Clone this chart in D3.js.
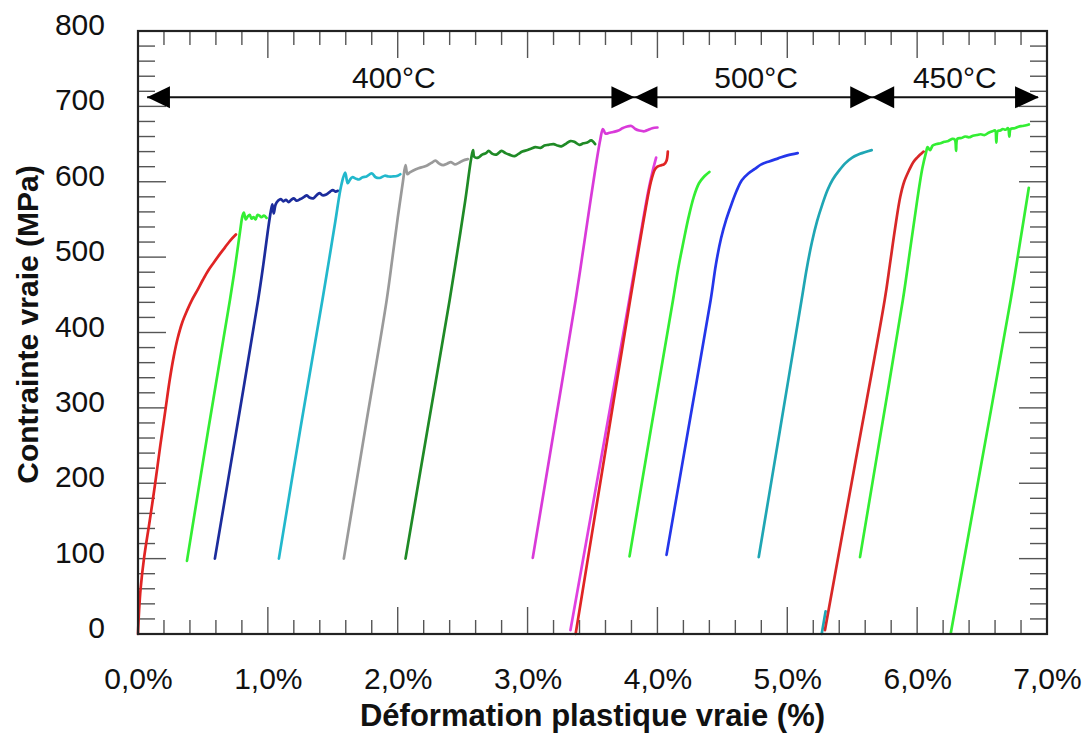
<!DOCTYPE html>
<html><head><meta charset="utf-8">
<script src="https://cdn.jsdelivr.net/npm/d3@7"></script>
<style>
html,body{margin:0;padding:0;background:#fff;}
svg{display:block;font-family:"Liberation Sans",Arial,Helvetica,sans-serif;}
</style></head>
<body>
<svg id="chart" width="1088" height="734"></svg>
<script>
// ---- data (strain %, true stress MPa) ----
const red400   = [[0,0],[0.008,30],[0.02,60],[0.046,100],[0.09,150],[0.13,197],[0.17,248],[0.21,296],[0.245,338],[0.275,368],[0.305,392],[0.34,413],[0.38,430],[0.415,443],[0.46,457],[0.5,470],[0.54,482],[0.58,492],[0.63,504],[0.67,513],[0.71,522],[0.754,530]];
const lime400  = [[0.377,97],[0.54,270],[0.708,443],[0.75,490],[0.785,533],[0.805,555],[0.815,559],[0.83,550],[0.845,554],[0.86,556],[0.875,551],[0.89,553],[0.905,550],[0.92,556],[0.935,555],[0.95,553],[0.97,555],[0.99,552]];
const navy400  = [[0.592,100],[0.76,272],[0.925,443],[0.965,490],[1.0,535],[1.025,563],[1.035,570],[1.045,558],[1.06,570],[1.08,575],[1.1,577],[1.12,574],[1.14,576],[1.16,573],[1.18,576],[1.2,578],[1.22,575],[1.25,577],[1.28,580],[1.3,582],[1.32,579],[1.35,578],[1.38,583],[1.4,585],[1.42,582],[1.45,583],[1.48,587],[1.5,589],[1.52,587],[1.54,588]];
const cyan400  = [[1.085,100],[1.25,272],[1.42,443],[1.47,495],[1.52,548],[1.565,595],[1.595,612],[1.615,598],[1.63,602],[1.65,606],[1.68,604],[1.7,603],[1.73,606],[1.76,607],[1.8,611],[1.83,606],[1.86,605],[1.9,608],[1.93,607],[1.96,607],[2.0,608],[2.02,610]];
const gray400  = [[1.585,100],[1.75,272],[1.915,443],[1.96,500],[2.0,552],[2.04,600],[2.06,622],[2.075,610],[2.09,612],[2.12,615],[2.16,618],[2.2,620],[2.23,622],[2.26,625],[2.29,628],[2.32,624],[2.35,622],[2.38,624],[2.41,626],[2.44,623],[2.47,625],[2.5,628],[2.54,630]];
const green400 = [[2.06,100],[2.23,272],[2.4,443],[2.46,508],[2.52,575],[2.565,630],[2.58,642],[2.59,633],[2.62,632],[2.65,636],[2.68,638],[2.7,641],[2.73,637],[2.76,636],[2.8,641],[2.83,638],[2.86,636],[2.9,634],[2.93,637],[2.96,640],[3.0,642],[3.03,644],[3.06,646],[3.1,645],[3.13,648],[3.16,649],[3.2,650],[3.23,648],[3.26,647],[3.3,651],[3.33,654],[3.36,653],[3.4,649],[3.43,651],[3.46,652],[3.49,655],[3.52,650]];
const magA400  = [[3.04,101],[3.205,272],[3.37,443],[3.42,500],[3.47,558],[3.52,615],[3.56,656],[3.58,670],[3.6,664],[3.63,665],[3.66,666],[3.7,668],[3.73,671],[3.76,673],[3.8,674],[3.83,670],[3.86,668],[3.9,667],[3.93,669],[3.96,671],[4.0,672]];
const magB400  = [[3.33,5],[3.555,222],[3.78,440],[3.86,520],[3.93,588],[3.96,612],[3.99,632]];
const red500   = [[3.37,0],[3.58,222],[3.79,443],[3.86,515],[3.91,565],[3.95,600],[3.98,616],[4.0,620],[4.03,622],[4.05,623],[4.07,628],[4.08,640]];
const lime500  = [[3.785,103],[3.95,272],[4.12,443],[4.16,485],[4.2,520],[4.24,553],[4.28,580],[4.32,598],[4.36,607],[4.4,613]];
const blue500  = [[4.07,105],[4.24,274],[4.41,443],[4.45,490],[4.49,525],[4.53,550],[4.57,570],[4.61,588],[4.65,602],[4.7,611],[4.75,617],[4.8,623],[4.86,627],[4.93,631],[5.0,635],[5.08,638]];
const teal500  = [[4.78,102],[4.945,272],[5.11,443],[5.15,485],[5.19,520],[5.23,548],[5.27,570],[5.31,589],[5.35,603],[5.4,615],[5.45,625],[5.5,632],[5.56,637],[5.65,642]];
const tealB500 = [[5.265,0],[5.28,15],[5.295,30]];
const red450   = [[5.29,5],[5.52,224],[5.75,443],[5.79,490],[5.83,538],[5.87,580],[5.9,600],[5.94,616],[5.97,626],[6.0,632],[6.05,640]];
const limeA450 = [[5.56,102],[5.725,272],[5.89,443],[5.95,515],[6.0,575],[6.04,618],[6.07,640],[6.08,646],[6.1,642],[6.12,648],[6.15,650],[6.18,651],[6.21,653],[6.24,654],[6.27,657],[6.29,656],[6.3,641],[6.31,657],[6.34,658],[6.37,660],[6.4,659],[6.43,661],[6.46,662],[6.49,663],[6.52,662],[6.55,665],[6.58,667],[6.6,668],[6.61,652],[6.62,667],[6.64,668],[6.66,670],[6.68,669],[6.7,671],[6.71,660],[6.72,670],[6.75,671],[6.78,673],[6.81,674],[6.84,675],[6.86,676]];
const limeB450 = [[6.26,2],[6.49,222],[6.72,443],[6.79,517],[6.86,592]];

const seriesList = [red400, lime400, navy400, cyan400, gray400, green400, magA400, magB400, red500, lime500, blue500, teal500, tealB500, red450, limeA450, limeB450];
const seriesColors = ["#e02424","#33ee33","#1c2c9c","#22b8cc","#9a9a9a","#1f8a26","#d93ad9","#e040e0","#e02424","#33ee33","#2436ea","#1fa6b4","#1fa6b4","#d82828","#33ee33","#33ee33"];

const xTicks = [0,1,2,3,4,5,6,7];
const yTicks = [0,100,200,300,400,500,600,700,800];
const xTitle = "Déformation plastique vraie (%)";
const yTitle = "Contrainte vraie (MPa)";
const tempLabels = ["400°C","500°C","450°C"];
const tempLabelX = [1.97, 4.76, 6.29];
const tempLabelY = 725;
const arrowY = 712;
const arrowLineExtent = [0.07, 6.93];
// triangle heads: [tip, base]
const arrowHeads = [[0.07,0.246],[3.823,3.646],[3.823,4.0],[5.654,5.485],[5.654,5.823],[6.938,6.754]];

// ---- drawing ----
const svg = d3.select("#chart");
const L = 138, R = 1047, T = 31, B = 634;
const x = d3.scaleLinear().domain([0,7]).range([L,R]);
const y = d3.scaleLinear().domain([0,800]).range([B,T]);

const g = svg.append("g");
const tickColor = "#555";
const xMinor = d3.range(0, 7.0001, 0.2);
const yMinor = d3.range(0, 800.001, 20);

const fmtX = d => d3.format(".1f")(d).replace(".", ",") + "%";
const xAxisB = d3.axisBottom(x).tickValues(xTicks).tickSize(0).tickFormat(fmtX).tickPadding(34);
const gx = g.append("g").attr("transform", `translate(0,${B})`).call(xAxisB);
gx.select(".domain").remove();
gx.selectAll("text").attr("font-size", 30).attr("fill", "#111").attr("font-family", "Liberation Sans, Arial, sans-serif");

const yAxisL = d3.axisLeft(y).tickValues(yTicks).tickSize(0).tickFormat(d3.format("d")).tickPadding(33);
const gy = g.append("g").attr("transform", `translate(${L},0)`).call(yAxisL);
gy.select(".domain").remove();
gy.selectAll("text").attr("font-size", 30).attr("fill", "#111").attr("dy", "0.12em").attr("font-family", "Liberation Sans, Arial, sans-serif");

// tick marks (inward, on all four sides)
const tk = g.append("g").attr("stroke", tickColor).attr("stroke-width", 1.4);
xMinor.forEach(v => {
  const major = Math.abs(v - Math.round(v)) < 1e-6;
  const len = major ? 27 : 14;
  tk.append("line").attr("x1", x(v)).attr("x2", x(v)).attr("y1", B).attr("y2", B - len);
  tk.append("line").attr("x1", x(v)).attr("x2", x(v)).attr("y1", T).attr("y2", T + len);
});
yMinor.forEach(v => {
  const major = Math.abs(v % 100) < 1e-6;
  const len = major ? 28 : 17;
  tk.append("line").attr("y1", y(v)).attr("y2", y(v)).attr("x1", L).attr("x2", L + len);
  tk.append("line").attr("y1", y(v)).attr("y2", y(v)).attr("x1", R).attr("x2", R - len);
});

// curves
const line = d3.line().x(d => x(d[0])).y(d => y(d[1])).curve(d3.curveCatmullRom.alpha(0.5));
const cg = g.append("g").attr("fill", "none").attr("stroke-width", 2.7).attr("stroke-linejoin", "round").attr("stroke-linecap", "round");
seriesList.forEach((s, i) => {
  cg.append("path").datum(s).attr("d", line).attr("stroke", seriesColors[i]);
});

// frame
g.append("rect").attr("x", L).attr("y", T).attr("width", R - L).attr("height", B - T)
  .attr("fill", "none").attr("stroke", "#222").attr("stroke-width", 2.2);

// temperature arrows
const ag = g.append("g");
ag.append("line").attr("x1", x(arrowLineExtent[0])).attr("x2", x(arrowLineExtent[1]))
  .attr("y1", y(arrowY)).attr("y2", y(arrowY)).attr("stroke", "#111").attr("stroke-width", 2);
arrowHeads.forEach(([tip, base]) => {
  const yy = y(arrowY), h = 11;
  ag.append("path").attr("d", `M${x(tip)},${yy}L${x(base)},${yy - h}L${x(base)},${yy + h}Z`).attr("fill", "#000");
});
tempLabels.forEach((t, i) => {
  ag.append("text").attr("x", x(tempLabelX[i])).attr("y", y(tempLabelY)).attr("text-anchor", "middle")
    .attr("font-size", 30).attr("fill", "#111").text(t);
});

// axis titles
svg.append("text").attr("x", (L + R) / 2).attr("y", 726).attr("text-anchor", "middle")
  .attr("font-size", 31).attr("font-weight", "bold").attr("fill", "#111").text(xTitle);
svg.append("text").attr("transform", `translate(38,${(T + B) / 2 - 8}) rotate(-90)`).attr("text-anchor", "middle")
  .attr("font-size", 30).attr("font-weight", "bold").attr("fill", "#111").text(yTitle);
</script>
</body></html>
